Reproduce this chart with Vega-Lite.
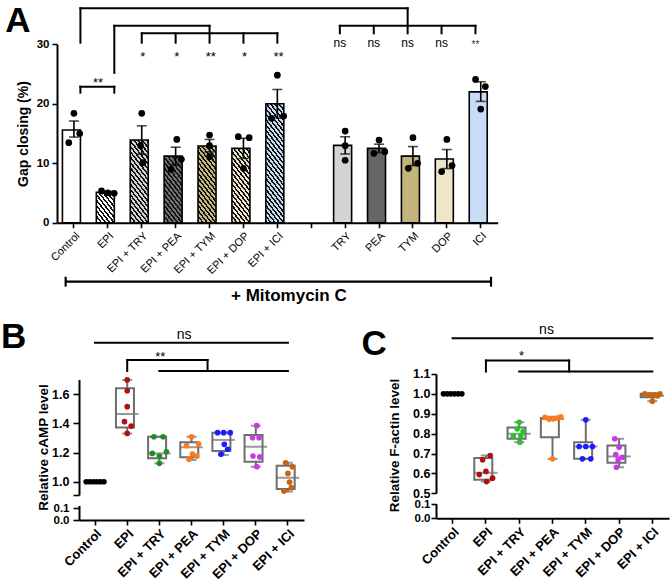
{
"$schema":"https://vega.github.io/schema/vega-lite/v6.json",
"width":672,"height":580,"autosize":"none","padding":0,"background":"white",
"config":{"font":"Liberation Sans","view":{"stroke":null},
 "axis":{"domainColor":"#000","domainWidth":2,"tickColor":"#000","tickWidth":1.6,"tickSize":5,"labelColor":"#000","titleColor":"#000","grid":false,"labelFlush":false,"labelOverlap":false,"labelPadding":3}},
"datasets":{
 "abar":[
  {"g":"Control","m":15.6,"lo":14.4,"hi":17.1},
  {"g":"EPI","m":5.1,"lo":4.95,"hi":5.25},
  {"g":"EPI + TRY","m":13.9,"lo":11.5,"hi":16.3},
  {"g":"EPI + PEA","m":11.2,"lo":9.7,"hi":12.7},
  {"g":"EPI + TYM","m":12.9,"lo":11.9,"hi":14.0},
  {"g":"EPI + DOP","m":12.5,"lo":10.8,"hi":14.2},
  {"g":"EPI + ICI","m":20.0,"lo":17.6,"hi":22.4},
  {"g":"TRY","m":13.0,"lo":11.55,"hi":14.45},
  {"g":"PEA","m":12.5,"lo":11.8,"hi":13.2},
  {"g":"TYM","m":11.2,"lo":9.6,"hi":12.8},
  {"g":"DOP","m":10.7,"lo":9.1,"hi":12.3},
  {"g":"ICI","m":22.0,"lo":20.4,"hi":23.7}],
 "apts":[
  {"g":"Control","v":18.4,"j":0},{"g":"Control","v":13.45,"j":-0.45},{"g":"Control","v":15.0,"j":0.5},
  {"g":"EPI","v":5.35,"j":-0.55},{"g":"EPI","v":5.0,"j":0},{"g":"EPI","v":4.95,"j":0.55},
  {"g":"EPI + TRY","v":18.4,"j":0},{"g":"EPI + TRY","v":12.95,"j":-0.1},{"g":"EPI + TRY","v":10.1,"j":0.1},
  {"g":"EPI + PEA","v":14.0,"j":0.1},{"g":"EPI + PEA","v":8.97,"j":-0.4},{"g":"EPI + PEA","v":10.66,"j":0.5},
  {"g":"EPI + TYM","v":14.75,"j":0},{"g":"EPI + TYM","v":12.95,"j":0},{"g":"EPI + TYM","v":11.1,"j":0},
  {"g":"EPI + DOP","v":14.46,"j":-0.45},{"g":"EPI + DOP","v":14.3,"j":0.5},{"g":"EPI + DOP","v":9.15,"j":0},
  {"g":"EPI + ICI","v":24.8,"j":0},{"g":"EPI + ICI","v":17.55,"j":-0.5},{"g":"EPI + ICI","v":17.94,"j":0.55},
  {"g":"TRY","v":15.4,"j":0},{"g":"TRY","v":12.95,"j":0},{"g":"TRY","v":10.5,"j":0},
  {"g":"PEA","v":13.9,"j":0},{"g":"PEA","v":11.67,"j":-0.45},{"g":"PEA","v":11.95,"j":0.5},
  {"g":"TYM","v":14.3,"j":0},{"g":"TYM","v":9.15,"j":-0.4},{"g":"TYM","v":10.0,"j":0.4},
  {"g":"DOP","v":14.0,"j":0},{"g":"DOP","v":8.6,"j":-0.45},{"g":"DOP","v":9.6,"j":0.45},
  {"g":"ICI","v":24.1,"j":-0.45},{"g":"ICI","v":22.9,"j":0.4},{"g":"ICI","v":19.1,"j":0}],
 "abr":[
  {"k":"p78","a":"Control","b":"EPI","y1":22.87,"y2":22.87},
  {"k":"p78","a":"Control","b":"Control","y1":21.86,"y2":22.87},
  {"k":"p78","a":"EPI","b":"EPI","y1":21.86,"y2":22.87},
  {"k":"p78","a":"Control","b":"Control","y1":30.27,"y2":36.05},
  {"k":"p78","a":"EPI","b":"EPI","y1":25.2,"y2":33.1},
  {"k":"q","a":"Control","b":"TYM","y1":36.05,"y2":36.05},
  {"k":"r","a":"EPI","b":"EPI + TYM","y1":33.1,"y2":33.1},
  {"k":"p27","a":"TRY","b":"ICI","y1":33.1,"y2":33.1},
  {"k":"p27","a":"TRY","b":"TRY","y1":31.85,"y2":33.1},
  {"k":"p27","a":"PEA","b":"PEA","y1":31.85,"y2":33.1},
  {"k":"p27","a":"TYM","b":"TYM","y1":31.85,"y2":36.05},
  {"k":"p27","a":"DOP","b":"DOP","y1":31.85,"y2":33.1},
  {"k":"p27","a":"ICI","b":"ICI","y1":31.85,"y2":33.1},
  {"k":"p50","a":"EPI + TRY","b":"EPI + ICI","y1":31.85,"y2":31.85},
  {"k":"p50","a":"EPI + TRY","b":"EPI + TRY","y1":30.27,"y2":31.85},
  {"k":"p50","a":"EPI + PEA","b":"EPI + PEA","y1":30.27,"y2":31.85},
  {"k":"p50","a":"EPI + TYM","b":"EPI + TYM","y1":30.27,"y2":33.1},
  {"k":"p50","a":"EPI + DOP","b":"EPI + DOP","y1":30.27,"y2":31.85},
  {"k":"p50","a":"EPI + ICI","b":"EPI + ICI","y1":30.27,"y2":31.85},
  {"k":"m","a":"Control","b":"ICI","y1":-9.92,"y2":-9.92},
  {"k":"mL","a":"Control","b":"Control","y1":-9.1,"y2":-10.75},
  {"k":"mR","a":"ICI","b":"ICI","y1":-9.1,"y2":-10.75}],
 "atx":[
  {"k":"s","g":"EPI + TRY","y":27.24,"t":"*"},
  {"k":"s","g":"EPI + PEA","y":27.24,"t":"*"},
  {"k":"s","g":"EPI + TYM","y":27.24,"t":"**"},
  {"k":"s","g":"EPI + DOP","y":27.24,"t":"*"},
  {"k":"s","g":"EPI + ICI","y":27.24,"t":"**"},
  {"k":"n","g":"TRY","y":29.48,"t":"ns"},
  {"k":"n","g":"PEA","y":29.48,"t":"ns"},
  {"k":"n","g":"TYM","y":29.48,"t":"ns"},
  {"k":"n","g":"DOP","y":29.48,"t":"ns"},
  {"k":"i","g":"ICI","y":29.3,"t":"**"},
  {"k":"c","g":"Control","y":22.75,"t":"**"},
  {"k":"m","g":"EPI + ICI","y":-13.2,"t":"+ Mitomycin C"},
  {"k":"L","g":"Control","y":32.12,"t":"A"}],
 "bbox":[
  {"g":"Control","lo":1,"q1":1,"md":1,"q3":1,"hi":1},
  {"g":"EPI","lo":1.33,"q1":1.372,"md":1.464,"q3":1.64,"hi":1.697},
  {"g":"EPI + TRY","lo":1.126,"q1":1.16,"md":1.194,"q3":1.308,"hi":1.308},
  {"g":"EPI + PEA","lo":1.149,"q1":1.167,"md":1.236,"q3":1.27,"hi":1.308},
  {"g":"EPI + TYM","lo":1.183,"q1":1.21,"md":1.286,"q3":1.336,"hi":1.336},
  {"g":"EPI + DOP","lo":1.103,"q1":1.137,"md":1.24,"q3":1.32,"hi":1.384},
  {"g":"EPI + ICI","lo":0.932,"q1":0.95,"md":1.027,"q3":1.11,"hi":1.13}],
 "bpts":[
  {"g":"Control","v":1,"j":-0.55},{"g":"Control","v":1,"j":-0.33},{"g":"Control","v":1,"j":-0.11},{"g":"Control","v":1,"j":0.11},{"g":"Control","v":1,"j":0.33},{"g":"Control","v":1,"j":0.55},
  {"g":"EPI","v":1.697,"j":0},{"g":"EPI","v":1.623,"j":0},{"g":"EPI","v":1.514,"j":0},{"g":"EPI","v":1.411,"j":-0.17},{"g":"EPI","v":1.381,"j":0.25},{"g":"EPI","v":1.331,"j":0},
  {"g":"EPI + TRY","v":1.308,"j":-0.34},{"g":"EPI + TRY","v":1.308,"j":0.23},{"g":"EPI + TRY","v":1.194,"j":-0.44},{"g":"EPI + TRY","v":1.205,"j":0.44},{"g":"EPI + TRY","v":1.176,"j":0},{"g":"EPI + TRY","v":1.126,"j":0},
  {"g":"EPI + PEA","v":1.308,"j":0},{"g":"EPI + PEA","v":1.247,"j":-0.31},{"g":"EPI + PEA","v":1.258,"j":0.44},{"g":"EPI + PEA","v":1.19,"j":0.06},{"g":"EPI + PEA","v":1.153,"j":-0.15},{"g":"EPI + PEA","v":1.176,"j":0.33},
  {"g":"EPI + TYM","v":1.336,"j":-0.38},{"g":"EPI + TYM","v":1.336,"j":0},{"g":"EPI + TYM","v":1.336,"j":0.41},{"g":"EPI + TYM","v":1.256,"j":0.04},{"g":"EPI + TYM","v":1.222,"j":0.25},{"g":"EPI + TYM","v":1.188,"j":-0.17},
  {"g":"EPI + DOP","v":1.384,"j":0.06},{"g":"EPI + DOP","v":1.301,"j":-0.2},{"g":"EPI + DOP","v":1.301,"j":0.2},{"g":"EPI + DOP","v":1.176,"j":-0.17},{"g":"EPI + DOP","v":1.17,"j":0.25},{"g":"EPI + DOP","v":1.103,"j":0.06},
  {"g":"EPI + ICI","v":1.13,"j":-0.14},{"g":"EPI + ICI","v":1.103,"j":0.27},{"g":"EPI + ICI","v":1.057,"j":0},{"g":"EPI + ICI","v":0.997,"j":0.1},{"g":"EPI + ICI","v":0.959,"j":0.21},{"g":"EPI + ICI","v":0.936,"j":-0.25}],
 "bbr":[
  {"k":"c","a":"Control","b":"EPI + ICI","y1":1.952,"y2":1.952},
  {"k":"c","a":"EPI","b":"EPI","y1":1.758,"y2":1.834},
  {"k":"c","a":"EPI + TRY","b":"EPI + ICI","y1":1.758,"y2":1.758},
  {"k":"h","a":"EPI","b":"EPI + PEA","y1":1.834,"y2":1.834},
  {"k":"v","a":"EPI + PEA","b":"EPI + PEA","y1":1.758,"y2":1.834}],
 "btx":[
  {"k":"n","g":"EPI + PEA","y":1.98,"t":"ns"},
  {"k":"s","g":"EPI + TRY","y":1.83,"t":"**"},
  {"k":"L","g":"Control","y":1.914,"t":"B"}],
 "cbox":[
  {"g":"Control","lo":1,"q1":1,"md":1,"q3":1,"hi":1},
  {"g":"EPI","lo":0.559,"q1":0.568,"md":0.603,"q3":0.678,"hi":0.69},
  {"g":"EPI + TRY","lo":0.757,"q1":0.774,"md":0.799,"q3":0.831,"hi":0.857},
  {"g":"EPI + PEA","lo":0.673,"q1":0.782,"md":0.873,"q3":0.879,"hi":0.885},
  {"g":"EPI + TYM","lo":0.673,"q1":0.673,"md":0.735,"q3":0.757,"hi":0.869},
  {"g":"EPI + DOP","lo":0.631,"q1":0.653,"md":0.685,"q3":0.74,"hi":0.774},
  {"g":"EPI + ICI","lo":0.963,"q1":0.983,"md":0.99,"q3":1.0,"hi":1.003}],
 "cpts":[
  {"g":"Control","v":1,"j":-0.55},{"g":"Control","v":1,"j":-0.33},{"g":"Control","v":1,"j":-0.11},{"g":"Control","v":1,"j":0.11},{"g":"Control","v":1,"j":0.33},{"g":"Control","v":1,"j":0.55},
  {"g":"EPI","v":0.69,"j":0.26},{"g":"EPI","v":0.668,"j":-0.2},{"g":"EPI","v":0.61,"j":0},{"g":"EPI","v":0.594,"j":-0.4},{"g":"EPI","v":0.576,"j":0.4},{"g":"EPI","v":0.559,"j":0.04},
  {"g":"EPI + TRY","v":0.857,"j":0},{"g":"EPI + TRY","v":0.824,"j":-0.12},{"g":"EPI + TRY","v":0.812,"j":0.24},{"g":"EPI + TRY","v":0.787,"j":-0.36},{"g":"EPI + TRY","v":0.79,"j":0.1},{"g":"EPI + TRY","v":0.757,"j":0.04},
  {"g":"EPI + PEA","v":0.882,"j":-0.45},{"g":"EPI + PEA","v":0.872,"j":-0.2},{"g":"EPI + PEA","v":0.874,"j":0.05},{"g":"EPI + PEA","v":0.878,"j":0.3},{"g":"EPI + PEA","v":0.884,"j":0.5},{"g":"EPI + PEA","v":0.673,"j":0},
  {"g":"EPI + TYM","v":0.869,"j":0},{"g":"EPI + TYM","v":0.735,"j":-0.4},{"g":"EPI + TYM","v":0.735,"j":0},{"g":"EPI + TYM","v":0.735,"j":0.4},{"g":"EPI + TYM","v":0.673,"j":-0.2},{"g":"EPI + TYM","v":0.673,"j":0.3},
  {"g":"EPI + DOP","v":0.774,"j":-0.26},{"g":"EPI + DOP","v":0.732,"j":0},{"g":"EPI + DOP","v":0.695,"j":-0.2},{"g":"EPI + DOP","v":0.681,"j":0.2},{"g":"EPI + DOP","v":0.668,"j":-0.06},{"g":"EPI + DOP","v":0.631,"j":-0.16},
  {"g":"EPI + ICI","v":1.0,"j":-0.45},{"g":"EPI + ICI","v":0.995,"j":-0.15},{"g":"EPI + ICI","v":0.995,"j":0.15},{"g":"EPI + ICI","v":1.0,"j":0.45},{"g":"EPI + ICI","v":0.99,"j":0.3},{"g":"EPI + ICI","v":0.963,"j":0}],
 "cbr":[
  {"k":"c","a":"Control","b":"EPI + ICI","y1":1.279,"y2":1.279},
  {"k":"c","a":"EPI","b":"EPI","y1":1.112,"y2":1.167},
  {"k":"c","a":"EPI + TRY","b":"EPI + ICI","y1":1.112,"y2":1.112},
  {"k":"h","a":"EPI","b":"EPI + PEA","y1":1.167,"y2":1.167},
  {"k":"v","a":"EPI + PEA","b":"EPI + PEA","y1":1.112,"y2":1.167}],
 "ctx":[
  {"k":"n","g":"EPI + PEA","y":1.303,"t":"ns"},
  {"k":"s","g":"EPI + TRY","y":1.172,"t":"*"},
  {"k":"L","g":"Control","y":1.197,"t":"C"}]
},
"layer":[
 {"layer":[
  {"data":{"name":"abar"},
   "mark":{"type":"bar","stroke":"#000","strokeWidth":1.6},
   "encoding":{
    "x":{"field":"g","type":"nominal","sort":null,
     "scale":{"type":"band","domain":["Control","EPI","EPI + TRY","EPI + PEA","EPI + TYM","EPI + DOP","EPI + ICI"," ","TRY","PEA","TYM","DOP","ICI"],"range":[57,497.7],"paddingInner":0.32,"paddingOuter":0.16},
     "axis":{"orient":"bottom","offset":-357.3,"title":null,"labelAngle":-45,"labelFontSize":11,"labelPadding":2}},
    "y":{"field":"m","type":"quantitative",
     "scale":{"domain":[0,30],"range":[222.7,44.3],"nice":false,"zero":false},
     "axis":{"orient":"left","offset":-57,"values":[0,10,20,30],"labelFontSize":11.5,"labelFontWeight":"bold","title":"Gap closing (%)","titleFontSize":14,"titleFontWeight":"bold","titleX":-27,"titleY":133.5}},
    "fill":{"condition":[
     {"test":"datum.g==='EPI'","value":{"gradient":"linear","x1":0,"y1":1,"x2":0.8536,"y2":-0.1232,"stops":[
      {"offset":0,"color":"#111"},{"offset":0.045,"color":"#111"},{"offset":0.045,"color":"#fff"},{"offset":0.1,"color":"#fff"},
      {"offset":0.1,"color":"#111"},{"offset":0.145,"color":"#111"},{"offset":0.145,"color":"#fff"},{"offset":0.2,"color":"#fff"},
      {"offset":0.2,"color":"#111"},{"offset":0.245,"color":"#111"},{"offset":0.245,"color":"#fff"},{"offset":0.3,"color":"#fff"},
      {"offset":0.3,"color":"#111"},{"offset":0.345,"color":"#111"},{"offset":0.345,"color":"#fff"},{"offset":0.4,"color":"#fff"},
      {"offset":0.4,"color":"#111"},{"offset":0.445,"color":"#111"},{"offset":0.445,"color":"#fff"},{"offset":0.5,"color":"#fff"},
      {"offset":0.5,"color":"#111"},{"offset":0.545,"color":"#111"},{"offset":0.545,"color":"#fff"},{"offset":0.6,"color":"#fff"},
      {"offset":0.6,"color":"#111"},{"offset":0.645,"color":"#111"},{"offset":0.645,"color":"#fff"},{"offset":0.7,"color":"#fff"},
      {"offset":0.7,"color":"#111"},{"offset":0.745,"color":"#111"},{"offset":0.745,"color":"#fff"},{"offset":0.8,"color":"#fff"},
      {"offset":0.8,"color":"#111"},{"offset":0.845,"color":"#111"},{"offset":0.845,"color":"#fff"},{"offset":0.9,"color":"#fff"},
      {"offset":0.9,"color":"#111"},{"offset":0.945,"color":"#111"},{"offset":0.945,"color":"#fff"},{"offset":1,"color":"#fff"}]}},
     {"test":"datum.g==='EPI + TRY'","value":{"gradient":"linear","x1":0,"y1":1,"x2":0.3364,"y2":-0.2064,"stops":[
      {"offset":0,"color":"#111"},{"offset":0.0225,"color":"#111"},{"offset":0.0225,"color":"#d2d2d2"},{"offset":0.05,"color":"#d2d2d2"},
      {"offset":0.05,"color":"#111"},{"offset":0.0725,"color":"#111"},{"offset":0.0725,"color":"#d2d2d2"},{"offset":0.1,"color":"#d2d2d2"},
      {"offset":0.1,"color":"#111"},{"offset":0.1225,"color":"#111"},{"offset":0.1225,"color":"#d2d2d2"},{"offset":0.15,"color":"#d2d2d2"},
      {"offset":0.15,"color":"#111"},{"offset":0.1725,"color":"#111"},{"offset":0.1725,"color":"#d2d2d2"},{"offset":0.2,"color":"#d2d2d2"},
      {"offset":0.2,"color":"#111"},{"offset":0.2225,"color":"#111"},{"offset":0.2225,"color":"#d2d2d2"},{"offset":0.25,"color":"#d2d2d2"},
      {"offset":0.25,"color":"#111"},{"offset":0.2725,"color":"#111"},{"offset":0.2725,"color":"#d2d2d2"},{"offset":0.3,"color":"#d2d2d2"},
      {"offset":0.3,"color":"#111"},{"offset":0.3225,"color":"#111"},{"offset":0.3225,"color":"#d2d2d2"},{"offset":0.35,"color":"#d2d2d2"},
      {"offset":0.35,"color":"#111"},{"offset":0.3725,"color":"#111"},{"offset":0.3725,"color":"#d2d2d2"},{"offset":0.4,"color":"#d2d2d2"},
      {"offset":0.4,"color":"#111"},{"offset":0.4225,"color":"#111"},{"offset":0.4225,"color":"#d2d2d2"},{"offset":0.45,"color":"#d2d2d2"},
      {"offset":0.45,"color":"#111"},{"offset":0.4725,"color":"#111"},{"offset":0.4725,"color":"#d2d2d2"},{"offset":0.5,"color":"#d2d2d2"},
      {"offset":0.5,"color":"#111"},{"offset":0.5225,"color":"#111"},{"offset":0.5225,"color":"#d2d2d2"},{"offset":0.55,"color":"#d2d2d2"},
      {"offset":0.55,"color":"#111"},{"offset":0.5725,"color":"#111"},{"offset":0.5725,"color":"#d2d2d2"},{"offset":0.6,"color":"#d2d2d2"},
      {"offset":0.6,"color":"#111"},{"offset":0.6225,"color":"#111"},{"offset":0.6225,"color":"#d2d2d2"},{"offset":0.65,"color":"#d2d2d2"},
      {"offset":0.65,"color":"#111"},{"offset":0.6725,"color":"#111"},{"offset":0.6725,"color":"#d2d2d2"},{"offset":0.7,"color":"#d2d2d2"},
      {"offset":0.7,"color":"#111"},{"offset":0.7225,"color":"#111"},{"offset":0.7225,"color":"#d2d2d2"},{"offset":0.75,"color":"#d2d2d2"},
      {"offset":0.75,"color":"#111"},{"offset":0.7725,"color":"#111"},{"offset":0.7725,"color":"#d2d2d2"},{"offset":0.8,"color":"#d2d2d2"},
      {"offset":0.8,"color":"#111"},{"offset":0.8225,"color":"#111"},{"offset":0.8225,"color":"#d2d2d2"},{"offset":0.85,"color":"#d2d2d2"},
      {"offset":0.85,"color":"#111"},{"offset":0.8725,"color":"#111"},{"offset":0.8725,"color":"#d2d2d2"},{"offset":0.9,"color":"#d2d2d2"},
      {"offset":0.9,"color":"#111"},{"offset":0.9225,"color":"#111"},{"offset":0.9225,"color":"#d2d2d2"},{"offset":0.95,"color":"#d2d2d2"},
      {"offset":0.95,"color":"#111"},{"offset":0.9725,"color":"#111"},{"offset":0.9725,"color":"#d2d2d2"},{"offset":1,"color":"#d2d2d2"}]}},
     {"test":"datum.g==='EPI + PEA'","value":{"gradient":"linear","x1":0,"y1":1,"x2":0.424,"y2":-0.2249,"stops":[
      {"offset":0,"color":"#111"},{"offset":0.0265,"color":"#111"},{"offset":0.0265,"color":"#707070"},{"offset":0.0588,"color":"#707070"},
      {"offset":0.0588,"color":"#111"},{"offset":0.0853,"color":"#111"},{"offset":0.0853,"color":"#707070"},{"offset":0.1176,"color":"#707070"},
      {"offset":0.1176,"color":"#111"},{"offset":0.1441,"color":"#111"},{"offset":0.1441,"color":"#707070"},{"offset":0.1765,"color":"#707070"},
      {"offset":0.1765,"color":"#111"},{"offset":0.2029,"color":"#111"},{"offset":0.2029,"color":"#707070"},{"offset":0.2353,"color":"#707070"},
      {"offset":0.2353,"color":"#111"},{"offset":0.2618,"color":"#111"},{"offset":0.2618,"color":"#707070"},{"offset":0.2941,"color":"#707070"},
      {"offset":0.2941,"color":"#111"},{"offset":0.3206,"color":"#111"},{"offset":0.3206,"color":"#707070"},{"offset":0.3529,"color":"#707070"},
      {"offset":0.3529,"color":"#111"},{"offset":0.3794,"color":"#111"},{"offset":0.3794,"color":"#707070"},{"offset":0.4118,"color":"#707070"},
      {"offset":0.4118,"color":"#111"},{"offset":0.4382,"color":"#111"},{"offset":0.4382,"color":"#707070"},{"offset":0.4706,"color":"#707070"},
      {"offset":0.4706,"color":"#111"},{"offset":0.4971,"color":"#111"},{"offset":0.4971,"color":"#707070"},{"offset":0.5294,"color":"#707070"},
      {"offset":0.5294,"color":"#111"},{"offset":0.5559,"color":"#111"},{"offset":0.5559,"color":"#707070"},{"offset":0.5882,"color":"#707070"},
      {"offset":0.5882,"color":"#111"},{"offset":0.6147,"color":"#111"},{"offset":0.6147,"color":"#707070"},{"offset":0.6471,"color":"#707070"},
      {"offset":0.6471,"color":"#111"},{"offset":0.6735,"color":"#111"},{"offset":0.6735,"color":"#707070"},{"offset":0.7059,"color":"#707070"},
      {"offset":0.7059,"color":"#111"},{"offset":0.7324,"color":"#111"},{"offset":0.7324,"color":"#707070"},{"offset":0.7647,"color":"#707070"},
      {"offset":0.7647,"color":"#111"},{"offset":0.7912,"color":"#111"},{"offset":0.7912,"color":"#707070"},{"offset":0.8235,"color":"#707070"},
      {"offset":0.8235,"color":"#111"},{"offset":0.85,"color":"#111"},{"offset":0.85,"color":"#707070"},{"offset":0.8824,"color":"#707070"},
      {"offset":0.8824,"color":"#111"},{"offset":0.9088,"color":"#111"},{"offset":0.9088,"color":"#707070"},{"offset":0.9412,"color":"#707070"},
      {"offset":0.9412,"color":"#111"},{"offset":0.9676,"color":"#111"},{"offset":0.9676,"color":"#707070"},{"offset":1,"color":"#707070"}]}},
     {"test":"datum.g==='EPI + TYM'","value":{"gradient":"linear","x1":0,"y1":1,"x2":0.3668,"y2":-0.2208,"stops":[
      {"offset":0,"color":"#111"},{"offset":0.0237,"color":"#111"},{"offset":0.0237,"color":"#c6b680"},{"offset":0.0526,"color":"#c6b680"},
      {"offset":0.0526,"color":"#111"},{"offset":0.0763,"color":"#111"},{"offset":0.0763,"color":"#c6b680"},{"offset":0.1053,"color":"#c6b680"},
      {"offset":0.1053,"color":"#111"},{"offset":0.1289,"color":"#111"},{"offset":0.1289,"color":"#c6b680"},{"offset":0.1579,"color":"#c6b680"},
      {"offset":0.1579,"color":"#111"},{"offset":0.1816,"color":"#111"},{"offset":0.1816,"color":"#c6b680"},{"offset":0.2105,"color":"#c6b680"},
      {"offset":0.2105,"color":"#111"},{"offset":0.2342,"color":"#111"},{"offset":0.2342,"color":"#c6b680"},{"offset":0.2632,"color":"#c6b680"},
      {"offset":0.2632,"color":"#111"},{"offset":0.2868,"color":"#111"},{"offset":0.2868,"color":"#c6b680"},{"offset":0.3158,"color":"#c6b680"},
      {"offset":0.3158,"color":"#111"},{"offset":0.3395,"color":"#111"},{"offset":0.3395,"color":"#c6b680"},{"offset":0.3684,"color":"#c6b680"},
      {"offset":0.3684,"color":"#111"},{"offset":0.3921,"color":"#111"},{"offset":0.3921,"color":"#c6b680"},{"offset":0.4211,"color":"#c6b680"},
      {"offset":0.4211,"color":"#111"},{"offset":0.4447,"color":"#111"},{"offset":0.4447,"color":"#c6b680"},{"offset":0.4737,"color":"#c6b680"},
      {"offset":0.4737,"color":"#111"},{"offset":0.4974,"color":"#111"},{"offset":0.4974,"color":"#c6b680"},{"offset":0.5263,"color":"#c6b680"},
      {"offset":0.5263,"color":"#111"},{"offset":0.55,"color":"#111"},{"offset":0.55,"color":"#c6b680"},{"offset":0.5789,"color":"#c6b680"},
      {"offset":0.5789,"color":"#111"},{"offset":0.6026,"color":"#111"},{"offset":0.6026,"color":"#c6b680"},{"offset":0.6316,"color":"#c6b680"},
      {"offset":0.6316,"color":"#111"},{"offset":0.6553,"color":"#111"},{"offset":0.6553,"color":"#c6b680"},{"offset":0.6842,"color":"#c6b680"},
      {"offset":0.6842,"color":"#111"},{"offset":0.7079,"color":"#111"},{"offset":0.7079,"color":"#c6b680"},{"offset":0.7368,"color":"#c6b680"},
      {"offset":0.7368,"color":"#111"},{"offset":0.7605,"color":"#111"},{"offset":0.7605,"color":"#c6b680"},{"offset":0.7895,"color":"#c6b680"},
      {"offset":0.7895,"color":"#111"},{"offset":0.8132,"color":"#111"},{"offset":0.8132,"color":"#c6b680"},{"offset":0.8421,"color":"#c6b680"},
      {"offset":0.8421,"color":"#111"},{"offset":0.8658,"color":"#111"},{"offset":0.8658,"color":"#c6b680"},{"offset":0.8947,"color":"#c6b680"},
      {"offset":0.8947,"color":"#111"},{"offset":0.9184,"color":"#111"},{"offset":0.9184,"color":"#c6b680"},{"offset":0.9474,"color":"#c6b680"},
      {"offset":0.9474,"color":"#111"},{"offset":0.9711,"color":"#111"},{"offset":0.9711,"color":"#c6b680"},{"offset":1,"color":"#c6b680"}]}},
     {"test":"datum.g==='EPI + DOP'","value":{"gradient":"linear","x1":0,"y1":1,"x2":0.3886,"y2":-0.2532,"stops":[
      {"offset":0,"color":"#111"},{"offset":0.0237,"color":"#111"},{"offset":0.0237,"color":"#efe8cc"},{"offset":0.0526,"color":"#efe8cc"},
      {"offset":0.0526,"color":"#111"},{"offset":0.0763,"color":"#111"},{"offset":0.0763,"color":"#efe8cc"},{"offset":0.1053,"color":"#efe8cc"},
      {"offset":0.1053,"color":"#111"},{"offset":0.1289,"color":"#111"},{"offset":0.1289,"color":"#efe8cc"},{"offset":0.1579,"color":"#efe8cc"},
      {"offset":0.1579,"color":"#111"},{"offset":0.1816,"color":"#111"},{"offset":0.1816,"color":"#efe8cc"},{"offset":0.2105,"color":"#efe8cc"},
      {"offset":0.2105,"color":"#111"},{"offset":0.2342,"color":"#111"},{"offset":0.2342,"color":"#efe8cc"},{"offset":0.2632,"color":"#efe8cc"},
      {"offset":0.2632,"color":"#111"},{"offset":0.2868,"color":"#111"},{"offset":0.2868,"color":"#efe8cc"},{"offset":0.3158,"color":"#efe8cc"},
      {"offset":0.3158,"color":"#111"},{"offset":0.3395,"color":"#111"},{"offset":0.3395,"color":"#efe8cc"},{"offset":0.3684,"color":"#efe8cc"},
      {"offset":0.3684,"color":"#111"},{"offset":0.3921,"color":"#111"},{"offset":0.3921,"color":"#efe8cc"},{"offset":0.4211,"color":"#efe8cc"},
      {"offset":0.4211,"color":"#111"},{"offset":0.4447,"color":"#111"},{"offset":0.4447,"color":"#efe8cc"},{"offset":0.4737,"color":"#efe8cc"},
      {"offset":0.4737,"color":"#111"},{"offset":0.4974,"color":"#111"},{"offset":0.4974,"color":"#efe8cc"},{"offset":0.5263,"color":"#efe8cc"},
      {"offset":0.5263,"color":"#111"},{"offset":0.55,"color":"#111"},{"offset":0.55,"color":"#efe8cc"},{"offset":0.5789,"color":"#efe8cc"},
      {"offset":0.5789,"color":"#111"},{"offset":0.6026,"color":"#111"},{"offset":0.6026,"color":"#efe8cc"},{"offset":0.6316,"color":"#efe8cc"},
      {"offset":0.6316,"color":"#111"},{"offset":0.6553,"color":"#111"},{"offset":0.6553,"color":"#efe8cc"},{"offset":0.6842,"color":"#efe8cc"},
      {"offset":0.6842,"color":"#111"},{"offset":0.7079,"color":"#111"},{"offset":0.7079,"color":"#efe8cc"},{"offset":0.7368,"color":"#efe8cc"},
      {"offset":0.7368,"color":"#111"},{"offset":0.7605,"color":"#111"},{"offset":0.7605,"color":"#efe8cc"},{"offset":0.7895,"color":"#efe8cc"},
      {"offset":0.7895,"color":"#111"},{"offset":0.8132,"color":"#111"},{"offset":0.8132,"color":"#efe8cc"},{"offset":0.8421,"color":"#efe8cc"},
      {"offset":0.8421,"color":"#111"},{"offset":0.8658,"color":"#111"},{"offset":0.8658,"color":"#efe8cc"},{"offset":0.8947,"color":"#efe8cc"},
      {"offset":0.8947,"color":"#111"},{"offset":0.9184,"color":"#111"},{"offset":0.9184,"color":"#efe8cc"},{"offset":0.9474,"color":"#efe8cc"},
      {"offset":0.9474,"color":"#111"},{"offset":0.9711,"color":"#111"},{"offset":0.9711,"color":"#efe8cc"},{"offset":1,"color":"#efe8cc"}]}},
     {"test":"datum.g==='EPI + ICI'","value":{"gradient":"linear","x1":0,"y1":1,"x2":0.2279,"y2":-0.176,"stops":[
      {"offset":0,"color":"#111"},{"offset":0.0167,"color":"#111"},{"offset":0.0167,"color":"#c6dbf3"},{"offset":0.037,"color":"#c6dbf3"},
      {"offset":0.037,"color":"#111"},{"offset":0.0537,"color":"#111"},{"offset":0.0537,"color":"#c6dbf3"},{"offset":0.0741,"color":"#c6dbf3"},
      {"offset":0.0741,"color":"#111"},{"offset":0.0907,"color":"#111"},{"offset":0.0907,"color":"#c6dbf3"},{"offset":0.1111,"color":"#c6dbf3"},
      {"offset":0.1111,"color":"#111"},{"offset":0.1278,"color":"#111"},{"offset":0.1278,"color":"#c6dbf3"},{"offset":0.1481,"color":"#c6dbf3"},
      {"offset":0.1481,"color":"#111"},{"offset":0.1648,"color":"#111"},{"offset":0.1648,"color":"#c6dbf3"},{"offset":0.1852,"color":"#c6dbf3"},
      {"offset":0.1852,"color":"#111"},{"offset":0.2019,"color":"#111"},{"offset":0.2019,"color":"#c6dbf3"},{"offset":0.2222,"color":"#c6dbf3"},
      {"offset":0.2222,"color":"#111"},{"offset":0.2389,"color":"#111"},{"offset":0.2389,"color":"#c6dbf3"},{"offset":0.2593,"color":"#c6dbf3"},
      {"offset":0.2593,"color":"#111"},{"offset":0.2759,"color":"#111"},{"offset":0.2759,"color":"#c6dbf3"},{"offset":0.2963,"color":"#c6dbf3"},
      {"offset":0.2963,"color":"#111"},{"offset":0.313,"color":"#111"},{"offset":0.313,"color":"#c6dbf3"},{"offset":0.3333,"color":"#c6dbf3"},
      {"offset":0.3333,"color":"#111"},{"offset":0.35,"color":"#111"},{"offset":0.35,"color":"#c6dbf3"},{"offset":0.3704,"color":"#c6dbf3"},
      {"offset":0.3704,"color":"#111"},{"offset":0.387,"color":"#111"},{"offset":0.387,"color":"#c6dbf3"},{"offset":0.4074,"color":"#c6dbf3"},
      {"offset":0.4074,"color":"#111"},{"offset":0.4241,"color":"#111"},{"offset":0.4241,"color":"#c6dbf3"},{"offset":0.4444,"color":"#c6dbf3"},
      {"offset":0.4444,"color":"#111"},{"offset":0.4611,"color":"#111"},{"offset":0.4611,"color":"#c6dbf3"},{"offset":0.4815,"color":"#c6dbf3"},
      {"offset":0.4815,"color":"#111"},{"offset":0.4981,"color":"#111"},{"offset":0.4981,"color":"#c6dbf3"},{"offset":0.5185,"color":"#c6dbf3"},
      {"offset":0.5185,"color":"#111"},{"offset":0.5352,"color":"#111"},{"offset":0.5352,"color":"#c6dbf3"},{"offset":0.5556,"color":"#c6dbf3"},
      {"offset":0.5556,"color":"#111"},{"offset":0.5722,"color":"#111"},{"offset":0.5722,"color":"#c6dbf3"},{"offset":0.5926,"color":"#c6dbf3"},
      {"offset":0.5926,"color":"#111"},{"offset":0.6093,"color":"#111"},{"offset":0.6093,"color":"#c6dbf3"},{"offset":0.6296,"color":"#c6dbf3"},
      {"offset":0.6296,"color":"#111"},{"offset":0.6463,"color":"#111"},{"offset":0.6463,"color":"#c6dbf3"},{"offset":0.6667,"color":"#c6dbf3"},
      {"offset":0.6667,"color":"#111"},{"offset":0.6833,"color":"#111"},{"offset":0.6833,"color":"#c6dbf3"},{"offset":0.7037,"color":"#c6dbf3"},
      {"offset":0.7037,"color":"#111"},{"offset":0.7204,"color":"#111"},{"offset":0.7204,"color":"#c6dbf3"},{"offset":0.7407,"color":"#c6dbf3"},
      {"offset":0.7407,"color":"#111"},{"offset":0.7574,"color":"#111"},{"offset":0.7574,"color":"#c6dbf3"},{"offset":0.7778,"color":"#c6dbf3"},
      {"offset":0.7778,"color":"#111"},{"offset":0.7944,"color":"#111"},{"offset":0.7944,"color":"#c6dbf3"},{"offset":0.8148,"color":"#c6dbf3"},
      {"offset":0.8148,"color":"#111"},{"offset":0.8315,"color":"#111"},{"offset":0.8315,"color":"#c6dbf3"},{"offset":0.8519,"color":"#c6dbf3"},
      {"offset":0.8519,"color":"#111"},{"offset":0.8685,"color":"#111"},{"offset":0.8685,"color":"#c6dbf3"},{"offset":0.8889,"color":"#c6dbf3"},
      {"offset":0.8889,"color":"#111"},{"offset":0.9056,"color":"#111"},{"offset":0.9056,"color":"#c6dbf3"},{"offset":0.9259,"color":"#c6dbf3"},
      {"offset":0.9259,"color":"#111"},{"offset":0.9426,"color":"#111"},{"offset":0.9426,"color":"#c6dbf3"},{"offset":0.963,"color":"#c6dbf3"},
      {"offset":0.963,"color":"#111"},{"offset":0.9796,"color":"#111"},{"offset":0.9796,"color":"#c6dbf3"},{"offset":1,"color":"#c6dbf3"}]}},
     {"test":"datum.g==='TRY'","value":"#d4d4d4"},
     {"test":"datum.g==='PEA'","value":"#666666"},
     {"test":"datum.g==='TYM'","value":"#c3b47c"},
     {"test":"datum.g==='DOP'","value":"#ede6c8"},
     {"test":"datum.g==='ICI'","value":"#c8dcf5"}],
     "value":"#fff"}}},
  {"data":{"name":"abar"},"mark":{"type":"rule","strokeWidth":1.6,"color":"#000"},
   "encoding":{"x":{"field":"g","type":"nominal"},"y":{"field":"lo","type":"quantitative"},"y2":{"field":"hi"}}},
  {"data":{"name":"abar"},"mark":{"type":"tick","size":10,"thickness":1.6,"color":"#000"},
   "encoding":{"x":{"field":"g","type":"nominal"},"y":{"field":"hi","type":"quantitative"}}},
  {"data":{"name":"abar"},"mark":{"type":"tick","size":10,"thickness":1.6,"color":"#000"},
   "encoding":{"x":{"field":"g","type":"nominal"},"y":{"field":"lo","type":"quantitative"}}},
  {"data":{"name":"apts"},"mark":{"type":"circle","size":45,"color":"#000","opacity":1},
   "encoding":{"x":{"field":"g","type":"nominal"},"xOffset":{"field":"j","type":"quantitative","scale":{"domain":[-1,1]}},"y":{"field":"v","type":"quantitative"}}},
  {"data":{"name":"abr"},"transform":[{"filter":"datum.k==='p78'"}],"mark":{"type":"rule","strokeWidth":2,"color":"#000","strokeCap":"square"},
   "encoding":{"x":{"field":"a","type":"nominal","bandPosition":0.78},"x2":{"field":"b","bandPosition":0.78},"y":{"field":"y1","type":"quantitative"},"y2":{"field":"y2"}}},
  {"data":{"name":"abr"},"transform":[{"filter":"datum.k==='q'"}],"mark":{"type":"rule","strokeWidth":2,"color":"#000","strokeCap":"square"},
   "encoding":{"x":{"field":"a","type":"nominal","bandPosition":0.78},"x2":{"field":"b","bandPosition":0.27},"y":{"field":"y1","type":"quantitative"},"y2":{"field":"y2"}}},
  {"data":{"name":"abr"},"transform":[{"filter":"datum.k==='r'"}],"mark":{"type":"rule","strokeWidth":2,"color":"#000","strokeCap":"square"},
   "encoding":{"x":{"field":"a","type":"nominal","bandPosition":0.78},"x2":{"field":"b","bandPosition":0.5},"y":{"field":"y1","type":"quantitative"},"y2":{"field":"y2"}}},
  {"data":{"name":"abr"},"transform":[{"filter":"datum.k==='p27'"}],"mark":{"type":"rule","strokeWidth":2,"color":"#000","strokeCap":"square"},
   "encoding":{"x":{"field":"a","type":"nominal","bandPosition":0.27},"x2":{"field":"b","bandPosition":0.27},"y":{"field":"y1","type":"quantitative"},"y2":{"field":"y2"}}},
  {"data":{"name":"abr"},"transform":[{"filter":"datum.k==='p50'"}],"mark":{"type":"rule","strokeWidth":2,"color":"#000","strokeCap":"square"},
   "encoding":{"x":{"field":"a","type":"nominal","bandPosition":0.5},"x2":{"field":"b","bandPosition":0.5},"y":{"field":"y1","type":"quantitative"},"y2":{"field":"y2"}}},
  {"data":{"name":"abr"},"transform":[{"filter":"datum.k==='m'"}],"mark":{"type":"rule","strokeWidth":2.2,"color":"#000"},
   "encoding":{"x":{"field":"a","type":"nominal","bandPosition":0.14},"x2":{"field":"b","bandPosition":0.946},"y":{"field":"y1","type":"quantitative"},"y2":{"field":"y2"}}},
  {"data":{"name":"abr"},"transform":[{"filter":"datum.k==='mL'"}],"mark":{"type":"rule","strokeWidth":2.2,"color":"#000"},
   "encoding":{"x":{"field":"a","type":"nominal","bandPosition":0.14},"y":{"field":"y1","type":"quantitative"},"y2":{"field":"y2"}}},
  {"data":{"name":"abr"},"transform":[{"filter":"datum.k==='mR'"}],"mark":{"type":"rule","strokeWidth":2.2,"color":"#000"},
   "encoding":{"x":{"field":"a","type":"nominal","bandPosition":0.946},"y":{"field":"y1","type":"quantitative"},"y2":{"field":"y2"}}},
  {"data":{"name":"atx"},"transform":[{"filter":"datum.k==='s'"}],"mark":{"type":"text","fontSize":13,"align":"center","baseline":"alphabetic","color":"#000"},
   "encoding":{"x":{"field":"g","type":"nominal","bandPosition":0.55},"y":{"field":"y","type":"quantitative"},"text":{"field":"t"}}},
  {"data":{"name":"atx"},"transform":[{"filter":"datum.k==='n'"}],"mark":{"type":"text","fontSize":12,"align":"center","baseline":"alphabetic","color":"#000"},
   "encoding":{"x":{"field":"g","type":"nominal","bandPosition":0.27},"y":{"field":"y","type":"quantitative"},"text":{"field":"t"}}},
  {"data":{"name":"atx"},"transform":[{"filter":"datum.k==='i'"}],"mark":{"type":"text","fontSize":10,"align":"center","baseline":"alphabetic","color":"#333"},
   "encoding":{"x":{"field":"g","type":"nominal","bandPosition":0.27},"y":{"field":"y","type":"quantitative"},"text":{"field":"t"}}},
  {"data":{"name":"atx"},"transform":[{"filter":"datum.k==='c'"}],"mark":{"type":"text","fontSize":13,"align":"center","baseline":"alphabetic","color":"#000"},
   "encoding":{"x":{"field":"g","type":"nominal","bandPosition":1.545},"y":{"field":"y","type":"quantitative"},"text":{"field":"t"}}},
  {"data":{"name":"atx"},"transform":[{"filter":"datum.k==='m'"}],"mark":{"type":"text","fontSize":17,"fontWeight":"bold","align":"center","baseline":"alphabetic","color":"#000"},
   "encoding":{"x":{"field":"g","type":"nominal","bandPosition":1},"y":{"field":"y","type":"quantitative"},"text":{"field":"t"}}},
  {"data":{"name":"atx"},"transform":[{"filter":"datum.k==='L'"}],"mark":{"type":"text","fontSize":35,"fontWeight":"bold","align":"center","baseline":"alphabetic","color":"#000"},
   "encoding":{"x":{"field":"g","type":"nominal","bandPosition":-1.93},"y":{"field":"y","type":"quantitative"},"text":{"field":"t"}}}
 ]},
 {"layer":[
  {"layer":[
   {"data":{"name":"bbox"},"mark":{"type":"rule","strokeWidth":2,"color":"#6e6e6e"},
    "encoding":{
     "x":{"field":"g","type":"nominal","sort":null,
      "scale":{"type":"band","domain":["Control","EPI","EPI + TRY","EPI + PEA","EPI + TYM","EPI + DOP","EPI + ICI"],"range":[79,304],"paddingInner":0,"paddingOuter":0},
      "axis":{"orient":"bottom","offset":-60,"title":null,"labelAngle":-45,"labelFontSize":13,"labelFontWeight":"bold","labelPadding":2}},
     "y":{"field":"lo","type":"quantitative",
      "scale":{"domain":[0.909,1.7],"range":[495,379.5],"nice":false,"zero":false},
      "axis":{"orient":"left","offset":-79,"values":[0.909,1,1.2,1.4,1.6],"labelExpr":"datum.value < 0.95 ? '' : format(datum.value, '.1f')","labelFontSize":12.5,"labelFontWeight":"bold","tickSize":6,"labelPadding":4,"title":"Relative cAMP level","titleFontSize":13.5,"titleFontWeight":"bold","titleX":-28.5,"titleY":447}},
     "y2":{"field":"hi"}}},
   {"data":{"name":"bbox"},"mark":{"type":"bar","fill":"#fff","strokeWidth":2,"width":{"band":0.7}},
    "encoding":{"x":{"field":"g","type":"nominal"},"y":{"field":"q1","type":"quantitative"},"y2":{"field":"q3"},
     "stroke":{"condition":{"test":"datum.g==='Control'","value":"#000"},"value":"#6e6e6e"}}},
   {"data":{"name":"bbox"},"mark":{"type":"tick","size":22.5,"thickness":2},
    "encoding":{"x":{"field":"g","type":"nominal"},"y":{"field":"md","type":"quantitative"},
     "color":{"condition":{"test":"datum.g==='Control'","value":"#000"},"value":"#6e6e6e"}}},
   {"data":{"name":"bbox"},"mark":{"type":"tick","size":10,"thickness":2},
    "encoding":{"x":{"field":"g","type":"nominal"},"y":{"field":"hi","type":"quantitative"},
     "color":{"condition":{"test":"datum.g==='Control'","value":"#000"},"value":"#6e6e6e"}}},
   {"data":{"name":"bbox"},"mark":{"type":"tick","size":10,"thickness":2},
    "encoding":{"x":{"field":"g","type":"nominal"},"y":{"field":"lo","type":"quantitative"},
     "color":{"condition":{"test":"datum.g==='Control'","value":"#000"},"value":"#6e6e6e"}}},
   {"data":{"name":"bpts"},"mark":{"type":"circle","size":32,"opacity":1},
    "encoding":{"x":{"field":"g","type":"nominal"},"xOffset":{"field":"j","type":"quantitative","scale":{"domain":[-1,1]}},"y":{"field":"v","type":"quantitative"},
     "color":{"field":"g","type":"nominal","legend":null,"scale":{"domain":["Control","EPI","EPI + TRY","EPI + PEA","EPI + TYM","EPI + DOP","EPI + ICI"],"range":["#000000","#b01010","#1f8f1f","#ff7a1a","#1c1cff","#c83ae6","#c8660f"]}}}},
   {"data":{"name":"bbr"},"transform":[{"filter":"datum.k==='c'"}],"mark":{"type":"rule","strokeWidth":2,"color":"#000","strokeCap":"square"},
    "encoding":{"x":{"field":"a","type":"nominal","bandPosition":0.5},"x2":{"field":"b","bandPosition":0.5},"y":{"field":"y1","type":"quantitative"},"y2":{"field":"y2"}}},
   {"data":{"name":"bbr"},"transform":[{"filter":"datum.k==='h'"}],"mark":{"type":"rule","strokeWidth":2,"color":"#000","strokeCap":"square"},
    "encoding":{"x":{"field":"a","type":"nominal","bandPosition":0.5},"x2":{"field":"b","bandPosition":1},"y":{"field":"y1","type":"quantitative"},"y2":{"field":"y2"}}},
   {"data":{"name":"bbr"},"transform":[{"filter":"datum.k==='v'"}],"mark":{"type":"rule","strokeWidth":2,"color":"#000","strokeCap":"square"},
    "encoding":{"x":{"field":"a","type":"nominal","bandPosition":1},"x2":{"field":"b","bandPosition":1},"y":{"field":"y1","type":"quantitative"},"y2":{"field":"y2"}}},
   {"data":{"name":"btx"},"transform":[{"filter":"datum.k==='n'"}],"mark":{"type":"text","fontSize":14,"align":"center","baseline":"alphabetic","color":"#000"},
    "encoding":{"x":{"field":"g","type":"nominal","bandPosition":0.27},"y":{"field":"y","type":"quantitative"},"text":{"field":"t"}}},
   {"data":{"name":"btx"},"transform":[{"filter":"datum.k==='s'"}],"mark":{"type":"text","fontSize":13,"align":"center","baseline":"alphabetic","color":"#000"},
    "encoding":{"x":{"field":"g","type":"nominal","bandPosition":0.53},"y":{"field":"y","type":"quantitative"},"text":{"field":"t"}}},
   {"data":{"name":"btx"},"transform":[{"filter":"datum.k==='L'"}],"mark":{"type":"text","fontSize":35,"fontWeight":"bold","align":"center","baseline":"alphabetic","color":"#000"},
    "encoding":{"x":{"field":"g","type":"nominal","bandPosition":-2.03},"y":{"field":"y","type":"quantitative"},"text":{"field":"t"}}}
  ]},
  {"data":{"values":[{"g":"Control","v":0}]},"mark":{"type":"point","opacity":0},
   "encoding":{"x":{"field":"g","type":"nominal"},
    "y":{"field":"v","type":"quantitative","scale":{"domain":[0,0.125],"range":[520,505.4],"nice":false,"zero":false},
     "axis":{"orient":"left","offset":-79,"values":[0,0.1],"format":".1f","labelFontSize":11.5,"labelFontWeight":"bold","tickSize":6,"labelPadding":4,"title":null}}}}
 ],
 "resolve":{"scale":{"y":"independent"},"axis":{"y":"independent"}}},
 {"layer":[
  {"layer":[
   {"data":{"name":"cbox"},"mark":{"type":"rule","strokeWidth":2,"color":"#6e6e6e"},
    "encoding":{
     "x":{"field":"g","type":"nominal","sort":null,
      "scale":{"type":"band","domain":["Control","EPI","EPI + TRY","EPI + PEA","EPI + TYM","EPI + DOP","EPI + ICI"],"range":[436,669],"paddingInner":0,"paddingOuter":0},
      "axis":{"orient":"bottom","offset":-61.7,"title":null,"labelAngle":-45,"labelFontSize":13,"labelFontWeight":"bold","labelPadding":2}},
     "y":{"field":"lo","type":"quantitative",
      "scale":{"domain":[0.5,1.1],"range":[493.3,373.9],"nice":false,"zero":false},
      "axis":{"orient":"left","offset":-436,"values":[0.5,0.6,0.7,0.8,0.9,1.0,1.1],"format":".1f","labelFontSize":12.5,"labelFontWeight":"bold","tickSize":5,"labelPadding":1,"title":"Relative F-actin level","titleFontSize":13.5,"titleFontWeight":"bold","titleX":-34.3,"titleY":445}},
     "y2":{"field":"hi"}}},
   {"data":{"name":"cbox"},"mark":{"type":"bar","fill":"#fff","strokeWidth":2,"width":{"band":0.7}},
    "encoding":{"x":{"field":"g","type":"nominal"},"y":{"field":"q1","type":"quantitative"},"y2":{"field":"q3"},
     "stroke":{"condition":{"test":"datum.g==='Control'","value":"#000"},"value":"#6e6e6e"}}},
   {"data":{"name":"cbox"},"mark":{"type":"tick","size":23.3,"thickness":2},
    "encoding":{"x":{"field":"g","type":"nominal"},"y":{"field":"md","type":"quantitative"},
     "color":{"condition":{"test":"datum.g==='Control'","value":"#000"},"value":"#6e6e6e"}}},
   {"data":{"name":"cbox"},"mark":{"type":"tick","size":10,"thickness":2},
    "encoding":{"x":{"field":"g","type":"nominal"},"y":{"field":"hi","type":"quantitative"},
     "color":{"condition":{"test":"datum.g==='Control'","value":"#000"},"value":"#6e6e6e"}}},
   {"data":{"name":"cbox"},"mark":{"type":"tick","size":10,"thickness":2},
    "encoding":{"x":{"field":"g","type":"nominal"},"y":{"field":"lo","type":"quantitative"},
     "color":{"condition":{"test":"datum.g==='Control'","value":"#000"},"value":"#6e6e6e"}}},
   {"data":{"name":"cpts"},"mark":{"type":"circle","size":32,"opacity":1},
    "encoding":{"x":{"field":"g","type":"nominal"},"xOffset":{"field":"j","type":"quantitative","scale":{"domain":[-1,1]}},"y":{"field":"v","type":"quantitative"},
     "color":{"field":"g","type":"nominal","legend":null,"scale":{"domain":["Control","EPI","EPI + TRY","EPI + PEA","EPI + TYM","EPI + DOP","EPI + ICI"],"range":["#000000","#b01010","#2ec02e","#ff7a1a","#1c1cff","#c83ae6","#c8660f"]}}}},
   {"data":{"name":"cbr"},"transform":[{"filter":"datum.k==='c'"}],"mark":{"type":"rule","strokeWidth":2,"color":"#000","strokeCap":"square"},
    "encoding":{"x":{"field":"a","type":"nominal","bandPosition":0.5},"x2":{"field":"b","bandPosition":0.5},"y":{"field":"y1","type":"quantitative"},"y2":{"field":"y2"}}},
   {"data":{"name":"cbr"},"transform":[{"filter":"datum.k==='h'"}],"mark":{"type":"rule","strokeWidth":2,"color":"#000","strokeCap":"square"},
    "encoding":{"x":{"field":"a","type":"nominal","bandPosition":0.5},"x2":{"field":"b","bandPosition":1},"y":{"field":"y1","type":"quantitative"},"y2":{"field":"y2"}}},
   {"data":{"name":"cbr"},"transform":[{"filter":"datum.k==='v'"}],"mark":{"type":"rule","strokeWidth":2,"color":"#000","strokeCap":"square"},
    "encoding":{"x":{"field":"a","type":"nominal","bandPosition":1},"x2":{"field":"b","bandPosition":1},"y":{"field":"y1","type":"quantitative"},"y2":{"field":"y2"}}},
   {"data":{"name":"ctx"},"transform":[{"filter":"datum.k==='n'"}],"mark":{"type":"text","fontSize":14,"align":"center","baseline":"alphabetic","color":"#000"},
    "encoding":{"x":{"field":"g","type":"nominal","bandPosition":0.32},"y":{"field":"y","type":"quantitative"},"text":{"field":"t"}}},
   {"data":{"name":"ctx"},"transform":[{"filter":"datum.k==='s'"}],"mark":{"type":"text","fontSize":13,"align":"center","baseline":"alphabetic","color":"#000"},
    "encoding":{"x":{"field":"g","type":"nominal","bandPosition":0.57},"y":{"field":"y","type":"quantitative"},"text":{"field":"t"}}},
   {"data":{"name":"ctx"},"transform":[{"filter":"datum.k==='L'"}],"mark":{"type":"text","fontSize":35,"fontWeight":"bold","align":"center","baseline":"alphabetic","color":"#000"},
    "encoding":{"x":{"field":"g","type":"nominal","bandPosition":-1.86},"y":{"field":"y","type":"quantitative"},"text":{"field":"t"}}}
  ]},
  {"data":{"values":[{"g":"Control","v":0}]},"mark":{"type":"point","opacity":0},
   "encoding":{"x":{"field":"g","type":"nominal"},
    "y":{"field":"v","type":"quantitative","scale":{"domain":[0,0.105],"range":[518.3,503.6],"nice":false,"zero":false},
     "axis":{"orient":"left","offset":-436,"values":[0,0.1],"format":".1f","labelFontSize":11.5,"labelFontWeight":"bold","tickSize":5,"labelPadding":1,"title":null}}}}
 ],
 "resolve":{"scale":{"y":"independent"},"axis":{"y":"independent"}}}
],
"resolve":{"scale":{"x":"independent","y":"independent","xOffset":"independent","color":"independent"},"axis":{"x":"independent","y":"independent"}}
}
